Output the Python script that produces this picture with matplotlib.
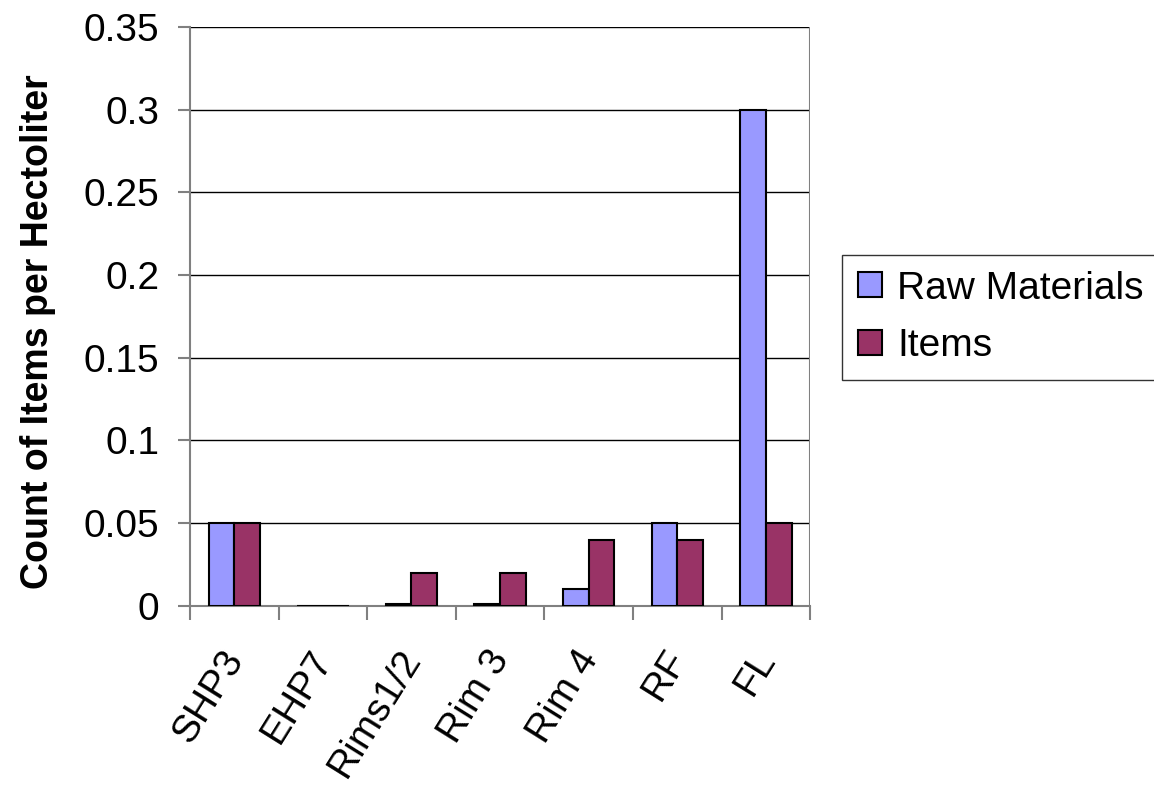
import numpy as np
import matplotlib.pyplot as plt

plt.rcParams['font.family'] = ['Liberation Sans', 'DejaVu Sans']

categories = ['SHP3', 'EHP7', 'Rims1/2', 'Rim 3', 'Rim 4', 'RF', 'FL']
raw_materials = [0.05, 0.0, 0.001, 0.001, 0.01, 0.05, 0.3]
items = [0.05, 0.0, 0.02, 0.02, 0.04, 0.04, 0.05]

fig = plt.figure(figsize=(11.54, 7.91), dpi=100)
ax = fig.add_axes([0.1646, 0.234, 0.5374, 0.732])

x = np.arange(len(categories))
w = 0.29
ax.bar(x - w / 2, raw_materials, w, color='#9999FF', edgecolor='black', lw=1.5,
       label='Raw Materials', zorder=3)
ax.bar(x + w / 2, items, w, color='#993366', edgecolor='black', lw=1.5,
       label='Items', zorder=3)

ax.set_xlim(-0.5, len(categories) - 0.5)
ax.set_ylim(0, 0.35)
ax.set_yticks(np.arange(0, 0.351, 0.05))
ax.set_yticklabels(['0', '0.05', '0.1', '0.15', '0.2', '0.25', '0.3', '0.35'])
ax.yaxis.grid(True, color='black', lw=1)

# category ticks sit on the boundaries, labels in the middle
ax.set_xticks(np.arange(-0.5, len(categories)))
ax.set_xticklabels([])
ax.set_xticks(x + 0.02, minor=True)
ax.set_xticklabels(categories, minor=True, rotation=58, ha='right', va='center',
                   rotation_mode='anchor', fontsize=28)
ax.tick_params(axis='x', which='major', length=10, color='#808080', width=1.5)
ax.tick_params(axis='x', which='minor', length=0, pad=34)
ax.tick_params(axis='y', length=9, color='#808080', width=1.5, labelsize=28, pad=13)

for side in ['top', 'right']:
    ax.spines[side].set_visible(False)
for side in ['left', 'bottom']:
    ax.spines[side].set_color('#808080')
    ax.spines[side].set_linewidth(1.5)
ax.axvline(len(categories) - 0.5, color='#808080', lw=1.5)

fig.text(38 / 1154, 1 - 332 / 791, 'Count of Items per Hectoliter', rotation=90,
         ha='center', va='center', fontsize=27, fontweight='bold')

leg = fig.legend(loc='upper left', bbox_to_anchor=(842 / 1154, 1 - 255 / 791),
                 borderaxespad=0, fontsize=28,
                 frameon=True, fancybox=False, edgecolor='black',
                 handlelength=0.62, handleheight=0.62, handletextpad=0.4,
                 borderpad=0.4, labelspacing=0.55)
leg.get_frame().set_linewidth(1)

fig.savefig('out.png', dpi=100)
